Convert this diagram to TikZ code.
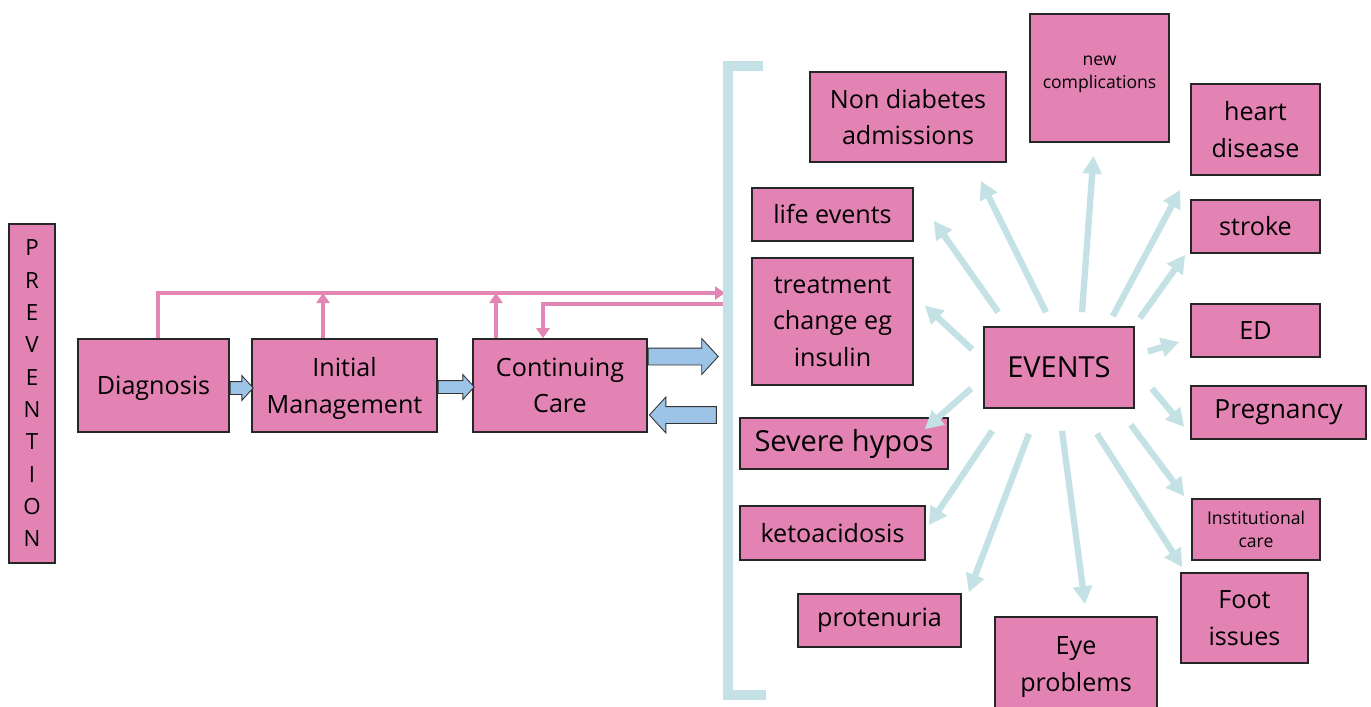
\documentclass[tikz,border=0pt]{standalone}
\usepackage{fontspec}
\setmainfont{Open Sans}
\usepackage{tikz}
\usetikzlibrary{arrows.meta,shapes.arrows}

\definecolor{boxpink}{HTML}{E283B4}
\definecolor{linkpink}{HTML}{E386B6}
\definecolor{flowblue}{HTML}{9DC3E6}
\definecolor{eventblue}{HTML}{C4E2E6}

\newcommand{\boxfont}{\fontsize{14.3}{20.7}\selectfont}
\newcommand{\bigfont}{\fontsize{16.5}{20}\selectfont}
\newcommand{\smallfont}{\fontsize{10}{13.5}\selectfont}

\begin{document}
\begin{tikzpicture}[
  x=0.02cm, y=-0.02cm,
  size/.style 2 args={minimum width=#1*0.02cm, minimum height=#2*0.02cm},
  box/.style={draw=black!85, line width=0.9pt, fill=boxpink, inner sep=0pt, align=center, font=\boxfont},
  link/.style={draw=linkpink, line width=2.3pt, -{Triangle[length=0.2cm, width=0.26cm]}},
  flow/.style={single arrow, draw=black!80, fill=flowblue, line width=0.5pt, inner xsep=0pt, single arrow tip angle=95},
  spoke/.style={draw=eventblue, line width=3.6pt, -{Triangle[length=0.36cm, width=0.37cm]}},
  bracket/.style={draw=eventblue, line width=0.2cm}
]
\useasboundingbox (0,0) rectangle (1371,706);

% care pathway
\node[box, size={46}{339}, font=\fontsize{12.7}{18.4}\selectfont] (prev) at (32,393.5) {P\\R\\E\\V\\E\\N\\T\\I\\O\\N};
\node[box, size={151}{93}, text depth=0pt] (diag) at (153.5,385.5) {Diagnosis};
\node[box, size={185}{93}, text depth=0pt] (init) at (344.5,385.5) {Initial\\Management};
\node[box, size={174}{93}, text depth=0pt] (cont) at (560,385.5) {Continuing\\Care};

\node[flow, minimum height=23*0.02cm, inner ysep=0.12cm, single arrow head extend=0.12cm, anchor=tail] (d2i) at ([shift={(0,2.5)}]diag.east) {};
\node[flow, minimum height=36*0.02cm, inner ysep=0.12cm, single arrow head extend=0.12cm, anchor=tail] (i2c) at ([shift={(0,1.5)}]init.east) {};
\node[flow, minimum height=70*0.02cm, inner ysep=0.16cm, single arrow head extend=0.19cm, anchor=tail] (out) at ([shift={(0,-29)}]cont.east) {};
\node[flow, minimum height=67*0.02cm, inner ysep=0.16cm, single arrow head extend=0.19cm, shape border rotate=180, anchor=tip] (back) at ([shift={(1,29.5)}]cont.east) {};

% pink feedback lines
\coordinate (hit1) at (725,293);
\coordinate (hit2) at (723,304);
\coordinate (initup) at ([shift={(-21.5,0)}]init.north);
\coordinate (contup) at ([shift={(-64,0)}]cont.north);
\coordinate (contdown) at ([shift={(-17,0)}]cont.north);
\draw[link] ([shift={(4.5,0)}]diag.north) |- (hit1);
\draw[link] (initup) -- (initup |- hit1);
\draw[link] (contup) -- (contup |- hit1);
\draw[link] (hit2) -| (contdown);

% bracket
\draw[bracket] (763,66) -- (728,66) -- (728,695) -- (766,695);

% events
\node[box, size={150}{81}, font=\bigfont] (events) at (1059,367.5) {EVENTS};
\node[box, size={196}{90}] (nondiab) at (908,117) {Non diabetes\\admissions};
\node[box, size={139}{128}, font=\smallfont, text depth=0.23cm] (newcomp) at (1099.5,78) {new\\complications};
\node[box, size={129}{91}] (heart) at (1255.5,129.5) {heart\\disease};
\node[box, size={129}{53}] (stroke) at (1255.5,226.5) {stroke};
\node[box, size={129}{53}] (ed) at (1255.5,330.5) {ED};
\node[box, size={175}{53}, font=\fontsize{15}{18}\selectfont] (preg) at (1278.5,412.5) {Pregnancy};
\node[box, size={128}{61}, font=\smallfont] (inst) at (1256,529.5) {Institutional\\care};
\node[box, size={127}{90}] (foot) at (1244.5,618) {Foot\\issues};
\node[box, size={162}{100}] (eye) at (1076,667) {Eye\\problems};
\node[box, size={163}{53}] (proten) at (879.5,620.5) {protenuria};
\node[box, size={185}{54}] (keto) at (832.5,533) {ketoacidosis};
\node[box, size={208}{51}, font=\bigfont] (severe) at (844,443.5) {Severe hypos};
\node[box, size={161}{127}] (treat) at (832.5,321.5) {treatment\\change eg\\insulin};
\node[box, size={161}{53}] (life) at (832.5,214.5) {life events};

\draw[spoke] ([shift={(-13,-14)}]events.north) -- ([shift={(-26,18)}]nondiab.south east);
\draw[spoke] ([shift={(23,-14)}]events.north) -- ([shift={(-6,13)}]newcomp.south);
\draw[spoke] ([shift={(15,-14)}]events.north west) -- ([shift={(20,-21)}]life.south east);
\draw[spoke] ([shift={(-11,-18)}]events.west) -- ([shift={(11,-16)}]treat.east);
\draw[spoke] ([shift={(-22,-10)}]events.north east) -- ([shift={(-10,14)}]heart.south west);
\draw[spoke] ([shift={(5,-8)}]events.north east) -- ([shift={(-5,1)}]stroke.south west);
\draw[spoke] ([shift={(13,-16)}]events.east) -- ([shift={(-11,11.5)}]ed.west);
\draw[spoke] ([shift={(17,21)}]events.east) -- ([shift={(-6,14.5)}]preg.west);
\draw[spoke] ([shift={(-12,21)}]events.west) -- ([shift={(-24,12)}]severe.north east);
\draw[spoke] ([shift={(9,22)}]events.south west) -- ([shift={(3,20)}]keto.north east);
\draw[spoke] ([shift={(-30,25)}]events.south) -- ([shift={(7,-1)}]proten.north east);
\draw[spoke] ([shift={(3,22)}]events.south) -- ([shift={(9,-12)}]eye.north);
\draw[spoke] ([shift={(38,25)}]events.south) -- ([shift={(2,-5)}]foot.north west);
\draw[spoke] ([shift={(-4,16)}]events.south east) -- ([shift={(-7,-2)}]inst.north west);
\end{tikzpicture}
\end{document}
